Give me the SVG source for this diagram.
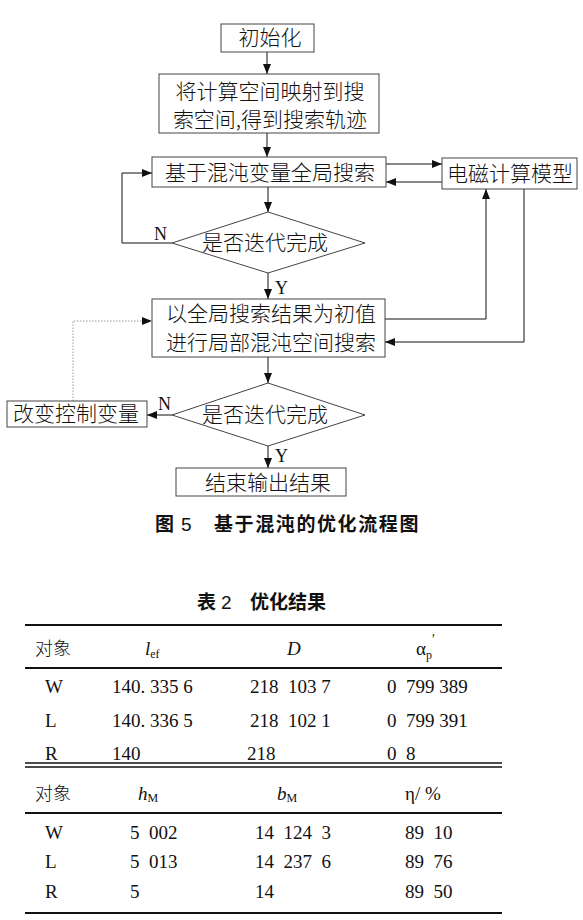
<svg xmlns="http://www.w3.org/2000/svg" width="583" height="920" viewBox="0 0 583 920">
<style>
.bx{fill:#fff;stroke:#444;stroke-width:1}
.cn{font-family:"Noto Sans CJK SC","Noto Sans CJK JP",sans-serif;font-size:21px;font-weight:300;fill:#111}
.lb{font-family:"Liberation Serif",serif;font-size:18px;fill:#111}
.ln{fill:none;stroke:#111;stroke-width:1}
.dt{fill:none;stroke:#999;stroke-width:1;stroke-dasharray:1.5,1.5}
.cap{font-family:"Noto Sans CJK SC",sans-serif;font-size:19px;font-weight:bold;fill:#111}
.tc{font-family:"Noto Sans CJK SC",sans-serif;font-size:18px;font-weight:300;fill:#111}
.tn{font-family:"Liberation Serif",serif;font-size:19px;fill:#111;white-space:pre}
.rule{stroke:#111;fill:none}
</style>
<defs>
<marker id="ah" markerUnits="userSpaceOnUse" markerWidth="10" markerHeight="8" viewBox="0 0 10 8" refX="10" refY="4" orient="auto">
<path d="M0,0 L10,4 L0,8 z" fill="#111"/>
</marker>
</defs>

<g id="connectors">
<line class="ln" x1="267" y1="52" x2="267" y2="74" marker-end="url(#ah)"/>
<line class="ln" x1="267" y1="133" x2="267" y2="157" marker-end="url(#ah)"/>
<line class="ln" x1="386" y1="164" x2="442" y2="164" marker-end="url(#ah)"/>
<line class="ln" x1="442" y1="182" x2="386" y2="182" marker-end="url(#ah)"/>
<line class="ln" x1="268" y1="187" x2="268" y2="212" marker-end="url(#ah)"/>
<polyline class="ln" points="172,243 122,243 122,173 152,173" marker-end="url(#ah)"/>
<line class="ln" x1="268" y1="273" x2="268" y2="299" marker-end="url(#ah)"/>
<polyline class="ln" points="385,319 486,319 486,189" marker-end="url(#ah)"/>
<polyline class="ln" points="524,189 524,342 385,342" marker-end="url(#ah)"/>
<line class="ln" x1="268" y1="357" x2="268" y2="383" marker-end="url(#ah)"/>
<line class="ln" x1="172" y1="415" x2="147" y2="415" marker-end="url(#ah)"/>
<polyline class="dt" points="73,401 73,321 152,321" marker-end="url(#ah)"/>
<line class="ln" x1="268" y1="446" x2="268" y2="468" marker-end="url(#ah)"/>
<text class="lb" x="154" y="240">N</text>
<text class="lb" x="275" y="294">Y</text>
<text class="lb" x="158" y="410">N</text>
<text class="lb" x="275" y="462">Y</text>
</g>

<g id="init">
<rect class="bx" x="221" y="24" width="93" height="28"/>
<text class="cn" x="270" y="45" text-anchor="middle">初始化</text>
</g>
<g id="map">
<rect class="bx" x="159" y="74" width="220" height="59"/>
<text class="cn" text-anchor="middle"><tspan x="270" y="99">将计算空间映射到搜</tspan><tspan x="270" y="127">索空间,得到搜索轨迹</tspan></text>
</g>
<g id="global">
<rect class="bx" x="152" y="157" width="234" height="30"/>
<text class="cn" x="270" y="180" text-anchor="middle">基于混沌变量全局搜索</text>
</g>
<g id="em">
<rect class="bx" x="442" y="158" width="135" height="31"/>
<text class="cn" x="510" y="181" text-anchor="middle">电磁计算模型</text>
</g>
<g id="dec1">
<polygon class="bx" points="268,212 365,243 268,273 172,243"/>
<text class="cn" x="265" y="250" text-anchor="middle">是否迭代完成</text>
</g>
<g id="local">
<rect class="bx" x="152" y="299" width="233" height="58"/>
<text class="cn" text-anchor="middle"><tspan x="271" y="321">以全局搜索结果为初值</tspan><tspan x="271" y="350">进行局部混沌空间搜索</tspan></text>
</g>
<g id="dec2">
<polygon class="bx" points="268,383 365,415 268,446 172,415"/>
<text class="cn" x="265" y="422" text-anchor="middle">是否迭代完成</text>
</g>
<g id="change">
<rect class="bx" x="7" y="401" width="140" height="26"/>
<text class="cn" x="76" y="421" text-anchor="middle">改变控制变量</text>
</g>
<g id="end">
<rect class="bx" x="176" y="468" width="170" height="28"/>
<text class="cn" x="268" y="490" text-anchor="middle">结束输出结果</text>
</g>

<g id="caption">
<text class="cap" y="531"><tspan x="155">图</tspan><tspan x="181" font-family="Liberation Sans,sans-serif" font-weight="normal">5</tspan><tspan x="214" letter-spacing="1.6">基于混沌的优化流程图</tspan></text>
</g>

<g id="table">
<text class="cap" y="609" font-size="18"><tspan x="197">表</tspan><tspan x="221" font-family="Liberation Sans,sans-serif" font-weight="normal">2</tspan><tspan x="250">优化结果</tspan></text>
<line class="rule" x1="25" y1="625" x2="502" y2="625" stroke-width="2"/>
<line class="rule" x1="25" y1="668" x2="502" y2="668" stroke-width="2"/>
<line class="rule" x1="25" y1="763" x2="502" y2="763" stroke-width="1.5"/>
<line class="rule" x1="25" y1="767" x2="502" y2="767" stroke-width="1.5"/>
<line class="rule" x1="25" y1="813" x2="502" y2="813" stroke-width="2"/>
<line class="rule" x1="25" y1="913" x2="502" y2="913" stroke-width="2"/>

<text class="tc" x="35" y="655">对象</text>
<text class="tn" x="145" y="655"><tspan font-style="italic">l</tspan><tspan font-size="12" dy="3">ef</tspan></text>
<text class="tn" x="287" y="655" font-style="italic">D</text>
<text class="tn" x="416" y="655">α<tspan font-size="12" dy="4">p</tspan><tspan font-size="14" dy="-15">′</tspan></text>

<text class="tn" x="45" y="693">W</text>
<text class="tn" x="112" y="693">140. 335 6</text>
<text class="tn" x="250" y="693">218  103 7</text>
<text class="tn" x="387" y="693">0  799 389</text>

<text class="tn" x="45" y="727">L</text>
<text class="tn" x="112" y="727">140. 336 5</text>
<text class="tn" x="250" y="727">218  102 1</text>
<text class="tn" x="387" y="727">0  799 391</text>

<text class="tn" x="45" y="760">R</text>
<text class="tn" x="112" y="760">140</text>
<text class="tn" x="247" y="760">218</text>
<text class="tn" x="387" y="760">0  8</text>

<text class="tc" x="35" y="800">对象</text>
<text class="tn" x="138" y="800"><tspan font-style="italic">h</tspan><tspan font-size="12" dy="2">M</tspan></text>
<text class="tn" x="277" y="800"><tspan font-style="italic">b</tspan><tspan font-size="12" dy="2">M</tspan></text>
<text class="tn" x="405" y="800">η/ %</text>

<text class="tn" x="45" y="839">W</text>
<text class="tn" x="130" y="839">5  002</text>
<text class="tn" x="255" y="839">14  124  3</text>
<text class="tn" x="405" y="839">89  10</text>

<text class="tn" x="45" y="868">L</text>
<text class="tn" x="130" y="868">5  013</text>
<text class="tn" x="255" y="868">14  237  6</text>
<text class="tn" x="405" y="868">89  76</text>

<text class="tn" x="45" y="898">R</text>
<text class="tn" x="130" y="898">5</text>
<text class="tn" x="255" y="898">14</text>
<text class="tn" x="405" y="898">89  50</text>
</g>
</svg>
